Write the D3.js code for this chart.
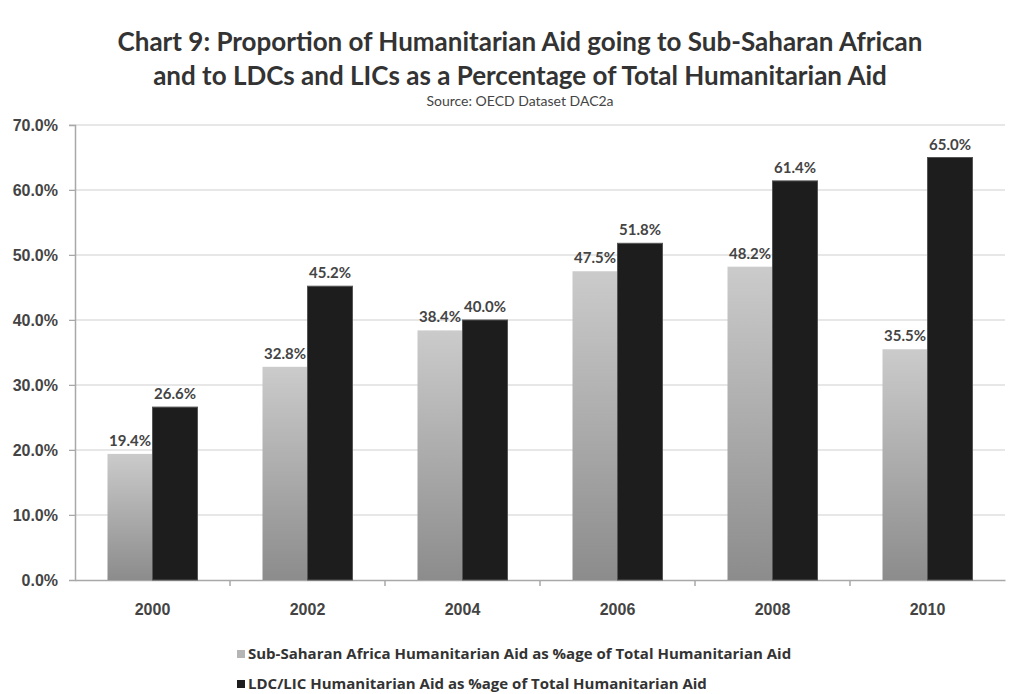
<!DOCTYPE html>
<html>
<head>
<meta charset="utf-8">
<script src="https://cdn.jsdelivr.net/npm/d3@7"></script>
<style>
  html, body { margin: 0; padding: 0; background: #fff; }
  svg { display: block; font-family: Lato, "Open Sans", sans-serif; }
</style>
</head>
<body>
<svg id="chart" width="1011" height="694"></svg>
<script>
// Data
const years = ["2000", "2002", "2004", "2006", "2008", "2010"];
const ssaShare = [19.4, 32.8, 38.4, 47.5, 48.2, 35.5];
const ldcShare = [26.6, 45.2, 40.0, 51.8, 61.4, 65.0];
const yTicks = [0, 10, 20, 30, 40, 50, 60, 70];
const seriesNames = [
  "Sub-Saharan Africa Humanitarian Aid as %age of Total Humanitarian Aid",
  "LDC/LIC Humanitarian Aid as %age of Total Humanitarian Aid"
];

const svg = d3.select("#chart");
const margin = { left: 75, right: 6, top: 125, bottom: 114 };
const W = 1011, H = 694;

const defs = svg.append("defs");
const grad = defs.append("linearGradient")
  .attr("id", "ssaGrad").attr("x1", 0).attr("y1", 0).attr("x2", 0).attr("y2", 1);
grad.append("stop").attr("offset", "0%").attr("stop-color", "#cbcbcb");
grad.append("stop").attr("offset", "100%").attr("stop-color", "#8c8c8c");

const x = d3.scaleBand().domain(years).range([margin.left, W - margin.right]);
const y = d3.scaleLinear().domain([0, 70]).range([H - margin.bottom, margin.top]);
const groupW = 90;
const xs = d3.scaleBand().domain([0, 1]).range([0, groupW]);

// Gridlines
svg.append("g").selectAll("line").data(yTicks.filter(d => d > 0)).join("line")
  .attr("x1", margin.left - 6).attr("x2", W - margin.right)
  .attr("y1", d => y(d)).attr("y2", d => y(d))
  .attr("stroke", "#cfcfcf").attr("stroke-width", 1.2);

// Y axis
const yAxis = svg.append("g").attr("transform", `translate(${margin.left},0)`)
  .call(d3.axisLeft(y).tickValues(yTicks).tickFormat(d => d.toFixed(1) + "%").tickSize(6).tickPadding(11));
yAxis.select(".domain").attr("stroke", "#a8a8a8").attr("stroke-width", 1.5);
yAxis.selectAll(".tick line").attr("stroke", "#a8a8a8");
yAxis.selectAll("text").attr("font-size", 16).attr("font-weight", "bold").attr("fill", "#444");

// X axis
const xAxis = svg.append("g").attr("transform", `translate(0,${y(0)})`)
  .call(d3.axisBottom(x).tickSize(0).tickPadding(24));
xAxis.select(".domain").attr("stroke", "#a8a8a8").attr("stroke-width", 1.5);
xAxis.selectAll("text").attr("font-size", 16).attr("font-weight", "bold").attr("fill", "#444");
// boundary ticks between categories
svg.append("g").selectAll("line").data(years.slice(1)).join("line")
  .attr("x1", d => x(d)).attr("x2", d => x(d))
  .attr("y1", y(0)).attr("y2", y(0) + 6)
  .attr("stroke", "#a8a8a8").attr("stroke-width", 1.5);

const off = (x.bandwidth() - groupW) / 2;

// Bars
const groups = svg.append("g").selectAll("g").data(years).join("g")
  .attr("transform", d => `translate(${x(d) + off},0)`);

groups.append("rect")
  .attr("x", xs(0)).attr("width", xs.bandwidth())
  .attr("y", (d, i) => y(ssaShare[i])).attr("height", (d, i) => y(0) - y(ssaShare[i]))
  .attr("fill", "url(#ssaGrad)");

groups.append("rect")
  .attr("x", xs(1)).attr("width", xs.bandwidth())
  .attr("y", (d, i) => y(ldcShare[i])).attr("height", (d, i) => y(0) - y(ldcShare[i]))
  .attr("fill", "#1d1d1d").attr("stroke", "#555").attr("stroke-width", 1);

// Value labels
groups.append("text")
  .attr("x", xs(0) + xs.bandwidth() / 2).attr("y", (d, i) => y(ssaShare[i]) - 8)
  .attr("text-anchor", "middle").attr("font-size", 15).attr("font-weight", "bold").attr("fill", "#444")
  .text((d, i) => ssaShare[i].toFixed(1) + "%");
groups.append("text")
  .attr("x", xs(1) + xs.bandwidth() / 2).attr("y", (d, i) => y(ldcShare[i]) - 8)
  .attr("text-anchor", "middle").attr("font-size", 15).attr("font-weight", "bold").attr("fill", "#444")
  .text((d, i) => ldcShare[i].toFixed(1) + "%");

// Title
svg.append("text").attr("x", 520).attr("y", 51).attr("text-anchor", "middle")
  .attr("font-size", 26).attr("font-weight", "bold").attr("fill", "#333")
  .text("Chart 9: Proportion of Humanitarian Aid going to Sub-Saharan African");
svg.append("text").attr("x", 520).attr("y", 85).attr("text-anchor", "middle")
  .attr("font-size", 26).attr("font-weight", "bold").attr("fill", "#333")
  .text("and to LDCs and LICs as a Percentage of Total Humanitarian Aid");
svg.append("text").attr("x", 520).attr("y", 106).attr("text-anchor", "middle")
  .attr("font-size", 14).attr("fill", "#444")
  .text("Source: OECD Dataset DAC2a");

// Legend
const legend = svg.append("g").selectAll("g").data(seriesNames).join("g")
  .attr("transform", (d, i) => `translate(237,${659 + i * 30})`);
legend.append("rect").attr("x", 0).attr("y", -9).attr("width", 8).attr("height", 8)
  .attr("fill", (d, i) => i === 0 ? "#b5b5b5" : "#1d1d1d");
legend.append("text").attr("x", 11).attr("y", 0)
  .attr("font-family", "'Open Sans', sans-serif")
  .attr("font-size", 15).attr("font-weight", "bold").attr("fill", "#333")
  .text(d => d);
</script>
</body>
</html>
